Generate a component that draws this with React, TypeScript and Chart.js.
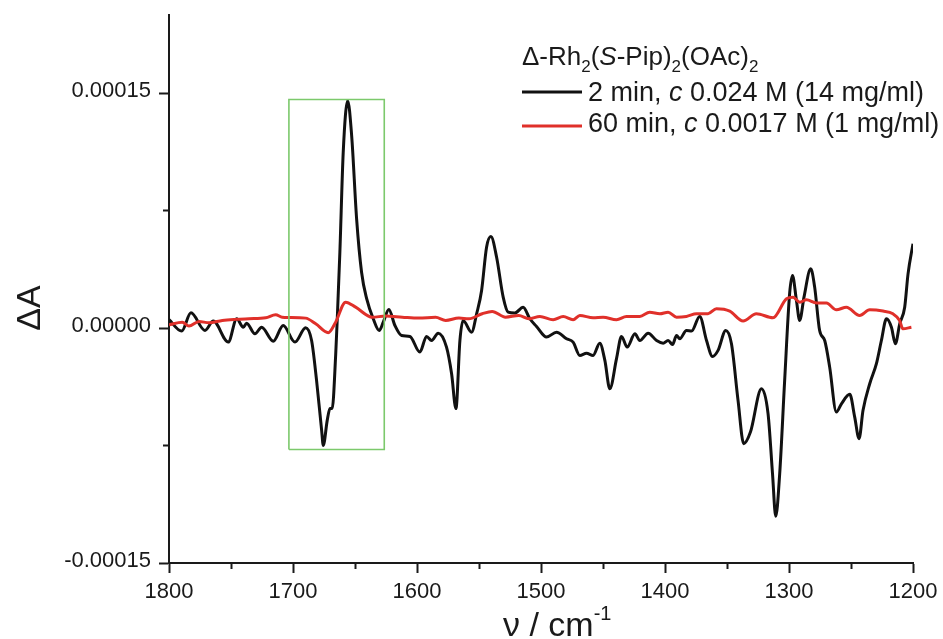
import React, { useEffect, useRef } from 'react';
import { Chart, registerables } from 'chart.js';

Chart.register(...registerables);

// ---- data (wavenumber in cm^-1, ΔA) ----
const blackWn = [1800, 1789.8, 1782.3, 1771.0, 1764.3, 1752.2, 1745.4, 1740.1, 1737.4, 1730.7,
  1725.3, 1715.9, 1707.9, 1698.4, 1689.8, 1685.0, 1681.0, 1676.9, 1675.6, 1672.4,
  1670.2, 1668.4, 1665.6, 1664.3, 1662.2, 1659.5, 1655.9, 1652.7, 1648.7, 1644.7,
  1640.6, 1635.3, 1630.5, 1627.2, 1622.7, 1617.8, 1612.4, 1605.7, 1597.7, 1592.3,
  1588.2, 1582.9, 1576.2, 1572.1, 1568.6, 1565.4, 1562.8, 1556.0, 1551.9, 1547.9,
  1543.9, 1540.4, 1535.8, 1530.5, 1526.5, 1521.1, 1514.4, 1509.0, 1503.6, 1495.5,
  1487.5, 1479.4, 1474.1, 1468.7, 1463.3, 1458.0, 1452.6, 1448.5, 1444.5, 1439.1,
  1435.1, 1430.5, 1424.3, 1420.3, 1413.6, 1406.8, 1401.5, 1397.5, 1393.9, 1390.7,
  1388.1, 1382.7, 1378.6, 1372.0, 1366.5, 1361.7, 1357.2, 1351.0, 1346.4, 1341.1,
  1336.5, 1331.1, 1322.2, 1316.9, 1313.3, 1310.7, 1307.5, 1303.5, 1299.5, 1297.2,
  1294.0, 1291.4, 1287.9, 1282.5, 1279.3, 1275.3, 1271.2, 1267.2, 1261.8, 1257.7,
  1251.0, 1247.0, 1243.5, 1240.3, 1234.9, 1229.5, 1225.5, 1221.4, 1217.4, 1214.2,
  1210.7, 1206.7, 1204.0, 1200];

const blackDA = [0.54e-5, -0.19e-5, 0.98e-5, -0.15e-5, 0.45e-5, -0.89e-5, 0.60e-5, 0.06e-5, 0.32e-5, -0.36e-5,
  0.06e-5, -0.83e-5, 0.17e-5, -0.89e-5, 0.03e-5, -0.79e-5, -3.34e-5, -6.53e-5, -7.49e-5, -5.89e-5,
  -5.14e-5, -5.14e-5, -1.74e-5, 0.60e-5, 4.85e-5, 11.23e-5, 14.53e-5, 12.30e-5, 6.98e-5, 3.57e-5,
  1.88e-5, 0.60e-5, -0.15e-5, 0.38e-5, 1.19e-5, 0.17e-5, -0.47e-5, -0.53e-5, -1.53e-5, -0.53e-5,
  -0.79e-5, -0.32e-5, -1.21e-5, -2.91e-5, -5.14e-5, -0.79e-5, 0.49e-5, -0.26e-5, 0.92e-5, 2.41e-5,
  5.17e-5, 5.85e-5, 4.53e-5, 1.98e-5, 1.02e-5, 0.96e-5, 1.34e-5, 0.60e-5, 0.11e-5, -0.57e-5,
  -0.26e-5, -0.68e-5, -0.89e-5, -1.74e-5, -1.60e-5, -1.74e-5, -0.96e-5, -2.06e-5, -3.87e-5, -1.95e-5,
  -0.53e-5, -1.21e-5, -0.36e-5, -0.79e-5, -0.32e-5, -0.79e-5, -0.96e-5, -0.79e-5, -1.04e-5, -0.47e-5,
  -0.68e-5, -0.15e-5, -0.19e-5, 0.75e-5, -0.79e-5, -1.81e-5, -1.42e-5, -0.15e-5, -1.00e-5, -4.61e-5,
  -7.38e-5, -6.64e-5, -3.87e-5, -5.46e-5, -9.29e-5, -12.02e-5, -9.29e-5, -3.34e-5, 2.20e-5, 3.36e-5,
  1.77e-5, 0.49e-5, 1.98e-5, 3.79e-5, 2.62e-5, -0.15e-5, -0.79e-5, -2.49e-5, -5.36e-5, -4.83e-5,
  -4.23e-5, -5.68e-5, -7.06e-5, -5.25e-5, -3.55e-5, -2.27e-5, -0.79e-5, 0.60e-5, 0.06e-5, -1.00e-5,
  0.28e-5, 1.34e-5, 3.47e-5, 5.39e-5];

const redWn = [1800, 1789.3, 1783.9, 1775.8, 1767.8, 1757.0, 1746.2, 1735.5, 1722.0, 1714.0,
  1708.7, 1703.3, 1689.8, 1681.7, 1671.6, 1665.6, 1657.6, 1649.5, 1636.1, 1625.3,
  1611.9, 1598.5, 1585.0, 1576.9, 1566.2, 1558.2, 1547.4, 1539.4, 1528.6, 1517.9,
  1509.8, 1500.9, 1490.2, 1482.1, 1474.1, 1468.7, 1458.0, 1449.9, 1439.1, 1431.1,
  1420.3, 1412.3, 1404.2, 1397.5, 1390.7, 1382.7, 1374.6, 1365.3, 1358.5, 1347.8,
  1337.0, 1326.3, 1312.9, 1302.0, 1296.7, 1291.3, 1285.9, 1277.9, 1269.8, 1261.8,
  1253.7, 1243.0, 1234.9, 1224.2, 1216.2, 1210.8, 1208.2, 1201.3];

const redDA = [0.22e-5, 0.38e-5, 0.13e-5, 0.43e-5, 0.34e-5, 0.49e-5, 0.56e-5, 0.60e-5, 0.66e-5, 0.86e-5,
  0.70e-5, 0.68e-5, 0.64e-5, 0.28e-5, -0.29e-5, 0.38e-5, 1.66e-5, 1.34e-5, 0.70e-5, 0.77e-5,
  0.70e-5, 0.64e-5, 0.70e-5, 0.49e-5, 0.64e-5, 0.60e-5, 0.92e-5, 1.07e-5, 0.70e-5, 0.81e-5,
  0.60e-5, 0.75e-5, 0.54e-5, 0.75e-5, 0.54e-5, 0.81e-5, 0.66e-5, 0.70e-5, 0.54e-5, 0.75e-5,
  0.75e-5, 1.02e-5, 0.92e-5, 1.02e-5, 0.70e-5, 0.75e-5, 0.92e-5, 0.92e-5, 1.24e-5, 1.09e-5,
  0.45e-5, 0.92e-5, 0.66e-5, 1.88e-5, 1.98e-5, 1.66e-5, 1.81e-5, 1.60e-5, 1.60e-5, 1.17e-5,
  1.34e-5, 0.81e-5, 1.17e-5, 1.09e-5, 0.92e-5, 0.49e-5, -0.04e-5, 0.06e-5];

// highlighted region (green rectangle corners)
const boxWn = [1703.3, 1703.3, 1626.4, 1626.4, 1703.3];
const boxDA = [-7.75e-5, 14.6e-5, 14.6e-5, -7.75e-5, -7.75e-5];

// axes / ticks
const xTicks = [1800, 1750, 1700, 1650, 1600, 1550, 1500, 1450, 1400, 1350, 1300, 1250, 1200];
const xMajor = [1800, 1700, 1600, 1500, 1400, 1300, 1200];
const yTicks = [-0.00015, -0.000075, 0, 0.000075, 0.00015];
const yMajor = [-0.00015, 0, 0.00015];
const yMajorLabels = ['-0.00015', '0.00000', '0.00015'];

const legendTitle = ['Δ-Rh', '2', '(', 'S', '-Pip)', '2', '(OAc)', '2'];
const seriesNames = [
  ['2 min, ', 'c', ' 0.024 M (14 mg/ml)'],
  ['60 min, ', 'c', ' 0.0017 M (1 mg/ml)'],
];
const xTitle = ['ν / cm', '-1'];
const yTitle = 'ΔA';

const FONT = '"Liberation Sans", Arial, Helvetica, sans-serif';
const TXT = '#1a1a1a';

const near = (arr: number[], v: number, tol: number) => arr.findIndex((a) => Math.abs(a - v) < tol);

const textPlugin = {
  id: 'customText',
  afterDraw(chart: any) {
    const ctx = chart.ctx as CanvasRenderingContext2D;
    ctx.save();
    ctx.fillStyle = TXT;
    ctx.textBaseline = 'alphabetic';
    ctx.textAlign = 'left';

    const runs = (x: number, y: number, items: { t: string; size: number; italic?: boolean; dy?: number }[]) => {
      let cx = x;
      for (const r of items) {
        ctx.font = `${r.italic ? 'italic ' : ''}${r.size}px ${FONT}`;
        ctx.fillText(r.t, cx, y + (r.dy || 0));
        cx += ctx.measureText(r.t).width;
      }
    };

    // legend title
    runs(522, 65, [
      { t: legendTitle[0], size: 26 },
      { t: legendTitle[1], size: 17, dy: 7 },
      { t: legendTitle[2], size: 26 },
      { t: legendTitle[3], size: 26, italic: true },
      { t: legendTitle[4], size: 26 },
      { t: legendTitle[5], size: 17, dy: 7 },
      { t: legendTitle[6], size: 26 },
      { t: legendTitle[7], size: 17, dy: 7 },
    ]);

    // legend entries
    const entries = [
      { ds: chart.data.datasets[2], lineY: 92, baseY: 101 },
      { ds: chart.data.datasets[1], lineY: 126, baseY: 131.5 },
    ];
    entries.forEach((e, i) => {
      ctx.strokeStyle = e.ds.borderColor;
      ctx.lineWidth = 3;
      ctx.beginPath();
      ctx.moveTo(522, e.lineY);
      ctx.lineTo(582, e.lineY);
      ctx.stroke();
      runs(588, e.baseY, [
        { t: seriesNames[i][0], size: 27 },
        { t: seriesNames[i][1], size: 27, italic: true },
        { t: seriesNames[i][2], size: 27 },
      ]);
    });

    // x title
    runs(503, 636, [
      { t: xTitle[0], size: 34 },
      { t: xTitle[1], size: 20, dy: -16 },
    ]);

    // y title
    ctx.translate(40, 308);
    ctx.rotate(-Math.PI / 2);
    ctx.textAlign = 'center';
    ctx.font = `34px ${FONT}`;
    ctx.fillText(yTitle, 0, 0);
    ctx.restore();
  },
};

export default function App() {
  const ref = useRef<HTMLCanvasElement>(null);
  useEffect(() => {
    const chart = new Chart(ref.current as HTMLCanvasElement, {
      type: 'line',
      data: {
        datasets: [
          {
            label: 'region',
            data: boxWn.map((x, i) => ({ x, y: boxDA[i] })),
            borderColor: '#7cc96c',
            borderWidth: 1.6,
            pointRadius: 0,
            tension: 0,
            fill: false,
          },
          {
            label: '60 min',
            data: redWn.map((x, i) => ({ x, y: redDA[i] })),
            borderColor: '#e0302a',
            borderWidth: 3,
            pointRadius: 0,
            cubicInterpolationMode: 'monotone',
            fill: false,
          },
          {
            label: '2 min',
            data: blackWn.map((x, i) => ({ x, y: blackDA[i] })),
            borderColor: '#111111',
            borderWidth: 3,
            pointRadius: 0,
            cubicInterpolationMode: 'monotone',
            fill: false,
          },
        ],
      } as any,
      options: {
        animation: false,
        responsive: true,
        maintainAspectRatio: false,
        events: [],
        layout: { padding: { top: 15, right: 30, bottom: 0, left: 0 } },
        plugins: { legend: { display: false }, tooltip: { enabled: false }, title: { display: false } },
        scales: {
          x: {
            type: 'linear',
            reverse: true,
            min: 1200,
            max: 1800,
            afterFit: (s: any) => { s.height = 76; s.paddingLeft = 0; s.paddingRight = 0; },
            afterBuildTicks: (s: any) => { s.ticks = xTicks.map((v) => ({ value: v })); },
            border: { display: true, color: TXT, width: 2 },
            grid: {
              drawOnChartArea: false,
              drawTicks: true,
              tickLength: 10,
              tickWidth: 2,
              tickColor: TXT,
              tickBorderDash: (c: any) => (near(xMajor, c.tick ? c.tick.value : 0, 1) >= 0 ? [] : [5, 50]),
            },
            ticks: {
              autoSkip: false,
              maxRotation: 0,
              padding: 6,
              color: TXT,
              font: { family: FONT, size: 22 },
              callback: (v: any) => (near(xMajor, Number(v), 1) >= 0 ? String(v) : ''),
            },
          },
          y: {
            type: 'linear',
            min: -0.00015,
            max: 0.0002,
            afterFit: (s: any) => { s.width = 169; s.paddingTop = 0; s.paddingBottom = 0; },
            afterBuildTicks: (s: any) => { s.ticks = yTicks.map((v) => ({ value: v })); },
            border: { display: true, color: TXT, width: 2 },
            grid: {
              drawOnChartArea: false,
              drawTicks: true,
              tickLength: 10,
              tickWidth: 2,
              tickColor: TXT,
              tickBorderDash: (c: any) => (near(yMajor, c.tick ? c.tick.value : 0, 1e-7) >= 0 ? [] : [0, 4, 20, 50]),
            },
            ticks: {
              padding: 8,
              labelOffset: -2,
              color: TXT,
              font: { family: FONT, size: 22 },
              callback: (v: any) => {
                const k = near(yMajor, Number(v), 1e-7);
                return k >= 0 ? yMajorLabels[k] : '';
              },
            },
          },
        },
      } as any,
      plugins: [textPlugin],
    });
    return () => chart.destroy();
  }, []);

  return (
    <div style={{ position: 'fixed', left: 0, top: 0, width: 943, height: 639, background: '#fff' }}>
      <canvas ref={ref} />
    </div>
  );
}
